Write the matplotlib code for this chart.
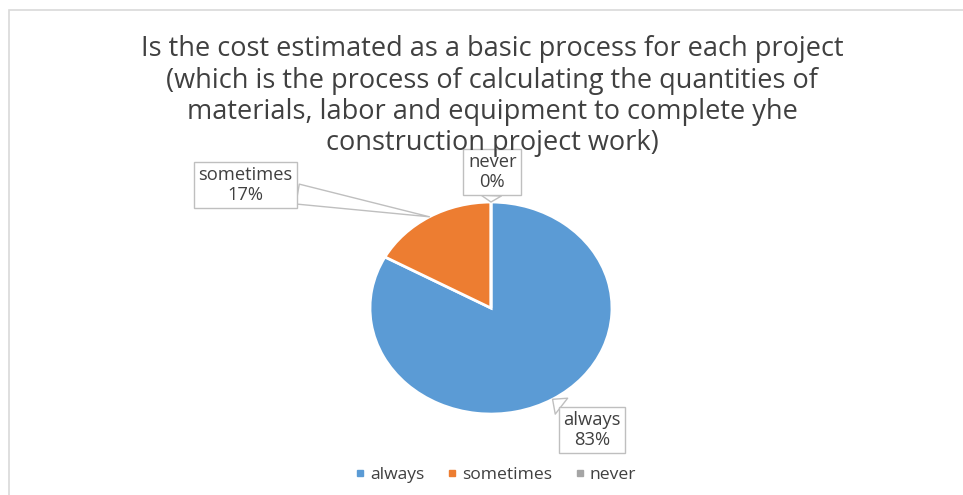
import numpy as np
import matplotlib
matplotlib.use('Agg')
import matplotlib.pyplot as plt
from matplotlib.patches import Rectangle
from matplotlib.lines import Line2D

plt.rcParams['font.family'] = ['Open Sans', 'DejaVu Sans']

labels = ['always', 'sometimes', 'never']
values = [83, 17, 0]
colors = ['#5B9BD5', '#ED7D31', '#A5A5A5']
title = ('Is the cost estimated as a basic process for each project\n'
         '(which is the process of calculating the quantities of\n'
         'materials, labor and equipment to complete yhe\n'
         'construction project work)')

fig = plt.figure(figsize=(9.63, 4.95), dpi=100)

# light frame of the chart area
fig.patches.append(Rectangle((9 / 963, -0.1), 1.1, (495 - 10) / 495 + 0.1,
                             transform=fig.transFigure, fill=False,
                             ec='#D9D9D9', lw=1.2))

fig.text(0.511, 0.929, title, ha='center', va='top', fontsize=19.5,
         color='#404040', linespacing=1.16)

ax = fig.add_axes([0.3528, 0.110, 0.3141, 0.5354])
wedges, _ = ax.pie(values, colors=colors, startangle=90, counterclock=False,
                   wedgeprops=dict(edgecolor='white', linewidth=2))
ax.set_aspect('auto')
ax.set_xlim(-1.25, 1.25)
ax.set_ylim(-1.25, 1.25)

# callout label positions (box centres, data units)
label_pos = [(0.835, -1.15), (-2.03, 1.16), (0.01, 1.285)]
total = sum(values)
ang = 90.0
for lab, v, (tx, ty) in zip(labels, values, label_pos):
    span = 360.0 * v / total
    mid = np.deg2rad(ang - span / 2)
    ang -= span
    tip = (np.cos(mid), np.sin(mid))
    pct = '%d%%' % round(100.0 * v / total)
    ax.annotate(lab + '\n' + pct, xy=tip, xytext=(tx, ty),
                ha='center', va='center', fontsize=13.2, color='#404040',
                annotation_clip=False, linespacing=1.1,
                bbox=dict(boxstyle='square,pad=0.25', fc='white', ec='#BFBFBF', lw=1),
                arrowprops=dict(arrowstyle='wedge,tail_width=1.1,shrink_factor=0.5',
                                fc='white', ec='#BFBFBF', lw=1,
                                shrinkA=0, shrinkB=0))

handles = [Line2D([], [], marker='s', ls='', color=c, markersize=5) for c in colors]
fig.legend(handles, labels, loc='center', bbox_to_anchor=(0.512, 0.040), ncol=3,
           frameon=False, fontsize=12.6, handletextpad=-0.05, handlelength=1.2,
           columnspacing=1.0, labelcolor='#404040')

fig.savefig('out.png', dpi=100, facecolor='white')
